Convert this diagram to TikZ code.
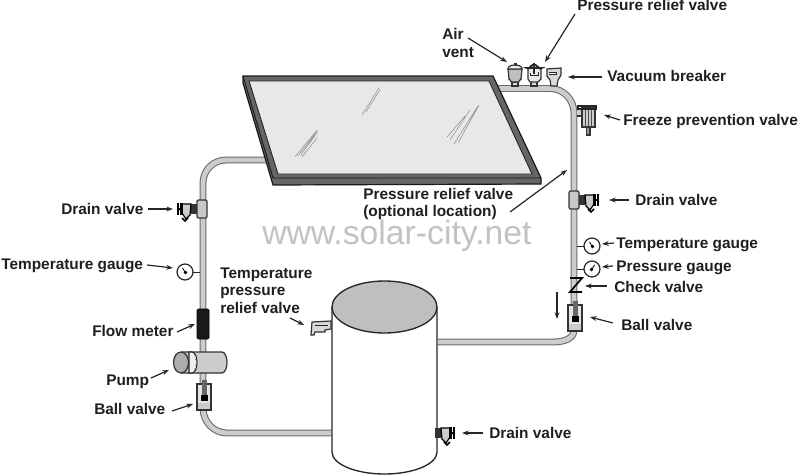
\documentclass[tikz,border=0pt]{standalone}
\usepackage{fontspec}
\setmainfont{Liberation Sans}
\usetikzlibrary{arrows.meta}
\tikzset{
  x=0.75pt,y=-0.75pt,
  lbl/.style={font=\fontsize{11.55pt}{13pt}\bfseries,inner sep=0pt,anchor=west,text=black!88,text height=8.3pt,text depth=0pt},
  mlbl/.style={inner sep=0pt,anchor=west,text=black!88,align=left},
  lead/.style={draw=black!85,line width=0.9pt,-{Stealth[length=5pt,width=3.6pt]}},
  pipeline/.style={draw=black!58,double=black!20,double distance=3.6pt,line width=0.8pt},
  part/.style={draw=black!80,fill=black!15,line width=0.9pt},
  streak/.style={draw=black!45,line width=0.4pt},
  pics/drainv/.style={code={
    \fill[black!80] (0,-5) rectangle (6,5);
    \draw[draw=black,fill=black!20,line width=0.9pt] (6,-5) -- (15,-5) -- (15,4) -- (11,10) -- (7,6) -- cycle;
    \draw[draw=black,line width=1.6pt] (15,0) -- (19,0) (15.5,-6) -- (15.5,6) (19,-6) -- (19,6);
    \draw[draw=black,line width=1.3pt] (9,9) -- (12,12) -- (15,9);
  }},
  pics/ballv/.style={code={
    \draw[part,fill=black!10] (-7,0) rectangle (7,26);
    \fill[black!20] (-6,19) rectangle (6,25);
    \fill[black!60] (-2.5,-4) rectangle (2.5,14);
    \fill[black] (-3.5,11) rectangle (3.5,17);
  }},
  pics/gaugeface/.style={code={
    \draw[draw=black!85,fill=white,line width=0.9pt] (0,0) circle[radius=8];
    \fill[black] (0.5,0.5) circle[radius=1.8];
    \draw[black,line width=0.6pt] (0,0) -- (-2.5,-4);
  }}
}
\begin{document}
\begin{tikzpicture}
\useasboundingbox (0,0) rectangle (800,475);
\fill[white] (0,0) rectangle (800,475);

% watermark
\node[inner sep=0pt,anchor=west,text=black!24,font=\fontsize{25.3pt}{28pt}\selectfont] (mark) at (262,236) {www.solar-city.net};

% pipes
\coordinate (pa) at (495,88.5); \coordinate (pb) at (574,330); \coordinate (pc) at (438,342);
\draw[pipeline] (pa) -- (550,88.5) to[out=0,in=90] (574,113) -- (pb) to[out=-90,in=0] (553,342) -- (pc);
\coordinate (qa) at (268,160); \coordinate (qb) at (331,433);
\draw[pipeline] (qa) -- (226,160) to[out=180,in=90] (203,183) -- (203,408) to[out=-90,in=180] (227,433) -- (qb);

% collector
\fill[black!60,draw=black!90,line width=0.9pt] (243,76) -- (493,76) -- (541,178) -- (541,184) -- (273,185) -- (243,83) -- cycle;
\draw[black!90,line width=0.7pt] (243,76) -- (273,178) -- (541,178);
\fill[black!9,draw=black!85,line width=0.7pt] (249,81) -- (489,81) -- (532,174) -- (278,174) -- cycle;
\draw[streak] (295,157) -- (317,130) (298,156) -- (316,133) (301,155) -- (318,131) (302,157) -- (317,138);
\draw[streak] (362,115) -- (379,88) (366,112) -- (380,90);
\draw[streak] (447,137) -- (465,116) (450,140) -- (470,110) (454,144) -- (478,106) (458,143) -- (479,105);

% tank
\draw[draw=black!85,fill=white,line width=1pt] (332,307) -- (332,452) arc[start angle=180,end angle=0,x radius=52.5,y radius=22] -- (437,307);
\draw[draw=black!85,fill=black!25,line width=1pt] (384.5,307) ellipse[x radius=52.5,y radius=26];

% air vent
\draw[part,fill=black!15] (512,82) rectangle (518,86);
\draw[part,fill=black!25] (508,69) -- (522,69) -- (521,79) to[out=90,in=0] (518,82) -- (512,82) to[out=180,in=90] (509,79) -- cycle;
\draw[part,fill=black!8] (508,69) to[out=90,in=180] (515,65) to[out=0,in=90] (522,69) -- cycle;
\fill[black!80] (513.5,63) rectangle (516.5,66);
% pressure relief valve
\draw[part,fill=black!15] (531,81) rectangle (537,86);
\draw[part,fill=black!8] (528,68) -- (541,68) -- (541,79) -- (538,82) -- (530,82) -- (528,79) -- cycle;
\draw[black!85,line width=1.4pt] (527,68) to[out=-60,in=180] (534,64.5) to[out=0,in=-120] (541.5,68) -- cycle;
\draw[black!85,line width=1.8pt] (534,63) -- (534,74);
\draw[black!85,line width=0.7pt] (530,73) -- (530,75) -- (538,75) -- (538,72);
% vacuum breaker
\draw[part,fill=black!15] (547,69) -- (561,68) -- (561,75) -- (558,80) -- (557,86) -- (551,86) -- (550,80) -- (547,76) -- cycle;
\draw[black!85,fill=white,line width=0.7pt] (549,72) -- (556,72) -- (556,74) -- (549,74);

% freeze valve
\draw[part,fill=black!20] (577,109) -- (583,109) -- (583,116) -- (577,116);
\draw[part,fill=black!20] (582,108) rectangle (595,127);
\draw[black!85,line width=1.1pt] (578,106) rectangle (596,109);
\draw[black!70,line width=0.5pt] (585,110) -- (585,127) (588,110) -- (588,127) (591,110) -- (591,127);
\draw[part,fill=black!40] (586.5,127) rectangle (590,135);

% right drain valve
\draw[part,fill=black!22,rounded corners=1pt] (569,191) rectangle (579,209);
\pic at (579,200) {drainv};

% right gauges
\draw[black!85,line width=0.7pt] (577,246) -- (584,246) (577,269) -- (584,269);
\pic at (592,246) {gaugeface};
\pic[xscale=-1] at (592,269) {gaugeface};

% check valve
\draw[black,line width=1.3pt] (570,278) -- (582,278) -- (570,292) -- (582,292);

% right ball valve
\pic at (575,305) {ballv};

% flow arrow
\coordinate (fa) at (557,292); \coordinate (fb) at (557,319);
\draw[lead] (fa) -- (fb);

% left drain valve
\draw[part,fill=black!22,rounded corners=1pt] (197,200) rectangle (207,218);
\pic[xscale=-1] at (197,209) {drainv};

% left gauge
\draw[black!85,line width=0.7pt] (193,272) -- (200,272);
\pic at (185,272) {gaugeface};

% flow meter
\draw[fill=black!90,draw=black,rounded corners=1pt] (197,309) rectangle (209,339);

% pump
\draw[part,fill=black!20] (181,352) -- (222,352) arc[start angle=-90,end angle=90,x radius=5,y radius=10.5] -- (181,373);
\draw[draw=black!85,fill=black!6,line width=0.8pt] (189,352) -- (192,352) arc[start angle=-90,end angle=90,x radius=5,y radius=10.5] -- (189,373) -- cycle;
\draw[black!60,line width=0.5pt] (194,355) -- (197,356) (195,359) -- (197,360) (195,365) -- (197,365) (194,369) -- (197,369);
\draw[part,fill=black!32] (181,362.5) ellipse[x radius=7.5,y radius=10.5];

% left ball valve
\pic at (204,384) {ballv};

% tpr valve
\draw[part,fill=black!15] (312,322) -- (331,321) -- (331,329) -- (325,330) -- (325,332) -- (315,332) -- (314,335) -- (311,335) -- cycle;
\draw[black!85,line width=0.6pt] (315,325) -- (328,325);

% bottom drain valve
\pic at (435,433) {drainv};

% labels
\node[lbl] (lprv) at (577,5) {Pressure relief valve};
\node[mlbl,font=\fontsize{11.55pt}{13.4pt}\bfseries] (lair) at (442,43) {Air\\vent};
\node[lbl] (lvac) at (607,76) {Vacuum breaker};
\node[lbl] (lfrz) at (623,120) {Freeze prevention valve};
\node[mlbl,font=\fontsize{11.55pt}{12.9pt}\bfseries] (lopt) at (363,204) {Pressure relief valve\\(optional location)};
\node[lbl] (ldr1) at (635,200) {Drain valve};
\node[lbl] (ltg1) at (616,243) {Temperature gauge};
\node[lbl] (lpg) at (616,266) {Pressure gauge};
\node[lbl] (lchk) at (614,287) {Check valve};
\node[lbl] (lbv1) at (621,325) {Ball valve};
\node[lbl] (ldr2) at (61,209) {Drain valve};
\node[lbl] (ltg2) at (1,264) {Temperature gauge};
\node[lbl] (lfm) at (92,331) {Flow meter};
\node[lbl] (lpu) at (106,380) {Pump};
\node[lbl] (lbv2) at (94,409) {Ball valve};
\node[mlbl,font=\fontsize{11.55pt}{13pt}\bfseries] (ltpr) at (220,290.5) {Temperature\\pressure\\relief valve};
\node[lbl] (ldr3) at (489,433) {Drain valve};

% leader ends
\coordinate (sprv) at (575,14); \coordinate (tprv) at (545,62);
\coordinate (sair) at (468,38); \coordinate (tair) at (507,62);
\coordinate (svac) at (602,77); \coordinate (tvac) at (568,77);
\coordinate (sfrz) at (620,120); \coordinate (tfrz) at (604,115);
\coordinate (sopt) at (510,212); \coordinate (topt) at (567,170);
\coordinate (sdr1) at (629,200); \coordinate (tdr1) at (609,200);
\coordinate (stg1) at (614,243); \coordinate (ttg1) at (602,244);
\coordinate (spg) at (613,266); \coordinate (tpg) at (602,267);
\coordinate (schk) at (607,286); \coordinate (tchk) at (585,286);
\coordinate (sbv1) at (613,323); \coordinate (tbv1) at (590,317);
\coordinate (sdr2) at (148,209); \coordinate (tdr2) at (173,209);
\coordinate (stg2) at (147,265); \coordinate (ttg2) at (173,268);
\coordinate (sfm) at (177,332); \coordinate (tfm) at (195,324);
\coordinate (spu) at (151,378); \coordinate (tpu) at (169,370);
\coordinate (sbv2) at (172,411); \coordinate (tbv2) at (193,404);
\coordinate (stpr) at (290,318); \coordinate (ttpr) at (304,325);
\coordinate (sdr3) at (483,433); \coordinate (tdr3) at (462,433);

\draw[lead] (sprv) -- (tprv);
\draw[lead] (sair) -- (tair);
\draw[lead] (svac) -- (tvac);
\draw[lead] (sfrz) -- (tfrz);
\draw[lead] (sopt) -- (topt);
\draw[lead] (sdr1) -- (tdr1);
\draw[lead] (stg1) -- (ttg1);
\draw[lead] (spg) -- (tpg);
\draw[lead] (schk) -- (tchk);
\draw[lead] (sbv1) -- (tbv1);
\draw[lead] (sdr2) -- (tdr2);
\draw[lead] (stg2) -- (ttg2);
\draw[lead] (sfm) -- (tfm);
\draw[lead] (spu) -- (tpu);
\draw[lead] (sbv2) -- (tbv2);
\draw[lead] (stpr) -- (ttpr);
\draw[lead] (sdr3) -- (tdr3);
\end{tikzpicture}
\end{document}
